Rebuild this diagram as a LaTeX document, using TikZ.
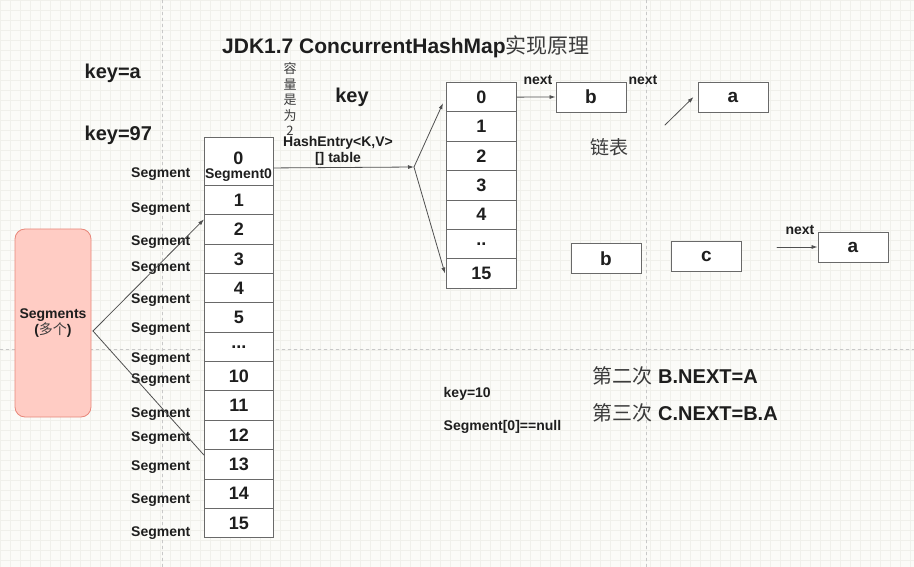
\documentclass[tikz,border=0pt]{standalone}
\usepackage{fontspec}
\setmainfont{Liberation Sans}
\newfontfamily\cjk{Noto Sans CJK SC}
\usetikzlibrary{arrows.meta}
\definecolor{paper}{RGB}{251, 251, 248}
\definecolor{gridline}{RGB}{240, 240, 235}
\definecolor{pagebreak}{RGB}{200, 200, 200}
\definecolor{ink}{RGB}{30, 30, 30}
\definecolor{cjkink}{RGB}{60, 60, 60}
\definecolor{boxline}{RGB}{105, 105, 105}
\definecolor{linkgray}{RGB}{80, 80, 80}
\definecolor{pinkfill}{RGB}{255, 204, 196}
\definecolor{pinkline}{RGB}{232, 135, 122}
\def\cellw{69pt}
\def\cellh{29.35pt}
\def\rowh{29.35}
\def\segdots{...}
\def\tabdots{..}

\begin{document}
\begin{tikzpicture}[x=1pt, y=-1pt, line width=0.7pt, line cap=round,
    cell/.style={draw=boxline, fill=white, line width=0.9pt, anchor=north west, inner sep=0pt,
        minimum width=\cellw, minimum height=\cellh, text=ink, font=\bfseries\fontsize{18}{18}\selectfont},
    item/.style={draw=boxline, fill=white, line width=0.9pt, inner sep=0pt,
        minimum width=70pt, minimum height=30pt, text=ink, font=\bfseries\fontsize{19}{19}\selectfont},
    small/.style={text=ink, font=\bfseries\fontsize{14}{16}\selectfont},
    big/.style={text=ink, font=\bfseries\fontsize{20}{24}\selectfont},
    link/.style={draw=linkgray, line width=0.8pt},
    pointer/.style={-{Latex[length=6pt,width=4pt]}}]

    \useasboundingbox (0,0) rectangle (914,567);
    \fill[paper] (0,0) rectangle (914,567);
    \foreach \gx in {0,10,...,910}
        \draw[gridline, line width=0.4pt] (\gx,0) -- (\gx,567);
    \foreach \gy in {0,10,...,560}
        \draw[gridline, line width=0.4pt] (0,\gy) -- (914,\gy);
    \draw[pagebreak, dashed, line width=0.5pt] (162,0) -- (162,567);
    \draw[pagebreak, dashed, line width=0.5pt] (646,0) -- (646,567);
    \draw[pagebreak, dashed, line width=0.5pt] (0,349) -- (914,349);

    \node[big, font=\bfseries\fontsize{21}{24}\selectfont] (title) at (406,47) {JDK1.7 ConcurrentHashMap{\cjk\mdseries\color{cjkink}实现原理}};
    \node[big, anchor=west] (keya) at (81,73) {key=a};
    \node[big, anchor=west] (key97) at (81,135) {key=97};
    \node[big] (keyword) at (352,97) {key};
    \node[text=cjkink, font=\cjk\fontsize{13}{15.5}\selectfont, align=center] (capacity) at (290,99) {容\\量\\是\\为\\2};
    \node[small, align=center] (hashentry) at (338,151) {HashEntry<K,V>\\{[]} table};

    % segment array
    \node[cell, minimum height=48pt] (s0) at (204,137) {};
    \node[text=ink, font=\bfseries\fontsize{18}{18}\selectfont] (zero) at (238.5,158.5) {0};
    \node[small] (zeroname) at (238.5,175) {Segment0};
    \foreach \lab [count=\i] in {1,2,3,4,5,\segdots,10,11,12,13,14,15}
        \node[cell] (s\i) at (204,{185+(\i-1)*\rowh}) {\lab};
    \foreach \yy [count=\k] in {174,209,242,268,300,329,359,380,414,438,467,500,533}
        \node[small, anchor=east] (lab\k) at (194,\yy) {Segment};

    \node[draw=pinkline, fill=pinkfill, line width=0.8pt, rounded corners=10pt, minimum width=76pt,
        minimum height=188pt, align=center, small] (segs) at (53,323) {Segments\\({\cjk\mdseries\color{cjkink}多个})};

    % table
    \foreach \lab [count=\i from 0] in {0,1,2,3,4,\tabdots,15}
        \node[cell, minimum width=70pt] (t\i) at (446,{82+\i*29.4}) {\lab};

    \node[item] (b1) at (591,97) {b};
    \node[item] (a1) at (733,97) {a};
    \node[item] (b2) at (606,258.5) {b};
    \node[item] (c2) at (706.5,256) {c};
    \node[item] (a2) at (853,247) {a};

    \node[small] (next1) at (538,80) {next};
    \node[small] (next2) at (643,80) {next};
    \node[small] (next3) at (800,230) {next};
    \node[text=cjkink, font=\cjk\fontsize{19}{20}\selectfont] (listword) at (609,147) {链表};

    \node[small, anchor=west] (key10) at (440,394) {key=10};
    \node[small, anchor=west] (nullseg) at (440,427) {Segment[0]==null};
    \node[big, anchor=west] (second) at (589,376) {{\cjk\mdseries\color{cjkink}第二次} B.NEXT=A};
    \node[big, anchor=west] (third) at (589,413) {{\cjk\mdseries\color{cjkink}第三次} C.NEXT=B.A};

    \coordinate (fan) at (93,331);
    \draw[link, pointer] (fan) -- ([yshift=-5pt]s2.north west);
    \draw[link] (fan) -- ([yshift=-6pt]s10.north west);

    \coordinate (split) at (414,167);
    \draw[link, pointer] ([yshift=-6.5pt]s0.east) -- (split);
    \draw[link, pointer] (split) -- ([shift={(-3pt,-6pt)}]t0.west);
    \draw[link, pointer] (split) -- ([xshift=-1pt]t6.west);

    \draw[link, pointer] (t0.east) -- (b1.west);
    \coordinate (hop) at (665,125);
    \draw[link, pointer] (hop) -- ([xshift=-4pt]a1.west);
    \coordinate (feed) at (777,247);
    \draw[link, pointer] (feed) -- (a2.west);

\end{tikzpicture}
\end{document}
